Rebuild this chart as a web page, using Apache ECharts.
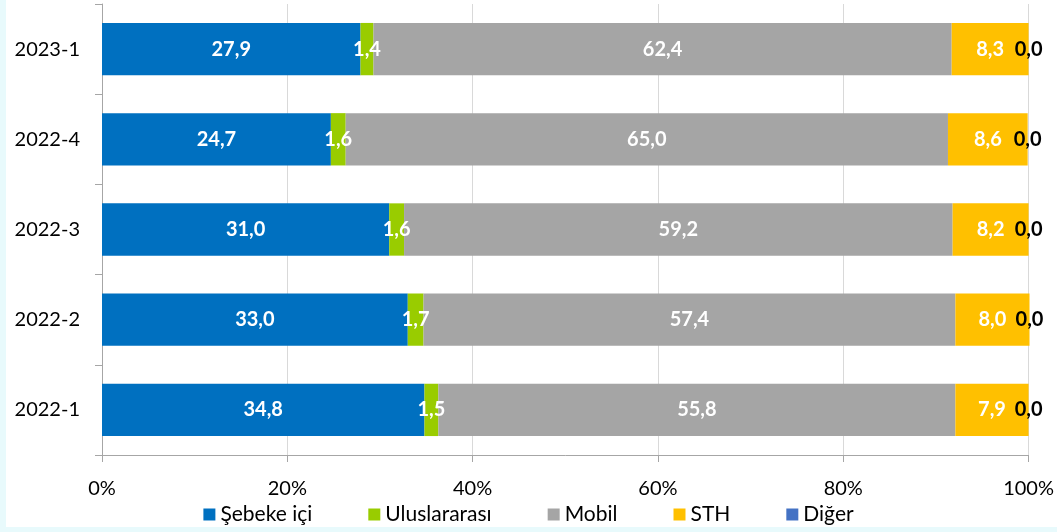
<!DOCTYPE html>
<html>
<head>
<meta charset="utf-8">
<script src="https://cdn.jsdelivr.net/npm/echarts@6/dist/echarts.min.js"></script>
<style>
  html, body { margin: 0; padding: 0; background: #E8FAFC; }
  #panel { position: absolute; left: 6px; top: 0; right: 0; bottom: 5px; background: #fff; }
  #chart { position: absolute; left: 0; top: 0; width: 1057px; height: 532px; }
</style>
</head>
<body>
<div id="panel"></div>
<div id="chart"></div>
<script>
// kategoriler alttan üste
var periods = ['2022-1', '2022-2', '2022-3', '2022-4', '2023-1']
var sebekeIci = [34.8, 33.0, 31.0, 24.7, 27.9]
var uluslararasi = [1.5, 1.7, 1.6, 1.6, 1.4]
var mobil = [55.8, 57.4, 59.2, 65.0, 62.4]
var sth = [7.9, 8.0, 8.2, 8.6, 8.3]
var diger = [0.0, 0.0, 0.0, 0.0, 0.0]
var xTicks = [0, 20, 40, 60, 80, 100]

var font = 'Lato, "Open Sans", sans-serif'

function fmt (p) {
  return p.value.toFixed(1).replace('.', ',')
}

function makeSeries (name, data, color, labelColor) {
  return {
    name: name,
    type: 'bar',
    stack: 'total',
    barCategoryGap: '42%',
    clip: false,
    data: data,
    itemStyle: { color: color },
    label: {
      show: true,
      position: 'inside',
      formatter: fmt,
      color: labelColor,
      fontWeight: 'bold',
      fontSize: 20,
      fontFamily: font
    },
    emphasis: { disabled: true }
  }
}

var chart = echarts.init(document.getElementById('chart'))
chart.setOption({
  animation: false,
  textStyle: { fontFamily: font },
  grid: { left: 102, right: 27, top: 4, bottom: 77 },
  legend: {
    bottom: 2,
    left: 'center',
    icon: 'rect',
    itemWidth: 12,
    itemHeight: 12,
    itemGap: 56,
    textStyle: { fontSize: 21, color: '#000', fontFamily: font },
    data: ['Şebeke içi', 'Uluslararası', 'Mobil', 'STH', 'Diğer']
  },
  xAxis: {
    type: 'value',
    min: xTicks[0],
    max: xTicks[xTicks.length - 1],
    interval: 20,
    axisLine: { show: true, lineStyle: { color: '#A6A6A6', width: 1 } },
    axisTick: { show: true, length: 7, lineStyle: { color: '#A6A6A6' } },
    axisLabel: {
      formatter: '{value}%',
      fontSize: 20,
      color: '#000',
      margin: 24,
      fontFamily: font
    },
    splitLine: { show: true, lineStyle: { color: '#D9D9D9' } }
  },
  yAxis: {
    type: 'category',
    data: periods,
    axisLine: { show: true, lineStyle: { color: '#A6A6A6' } },
    axisTick: { show: true, length: 7, lineStyle: { color: '#A6A6A6' } },
    axisLabel: { fontSize: 20, color: '#000', margin: 22, fontFamily: font }
  },
  series: [
    makeSeries('Şebeke içi', sebekeIci, '#0070C0', '#fff'),
    makeSeries('Uluslararası', uluslararasi, '#99CC00', '#fff'),
    makeSeries('Mobil', mobil, '#A5A5A5', '#fff'),
    makeSeries('STH', sth, '#FFC000', '#fff'),
    makeSeries('Diğer', diger, '#4472C4', '#000')
  ]
})
</script>
</body>
</html>
